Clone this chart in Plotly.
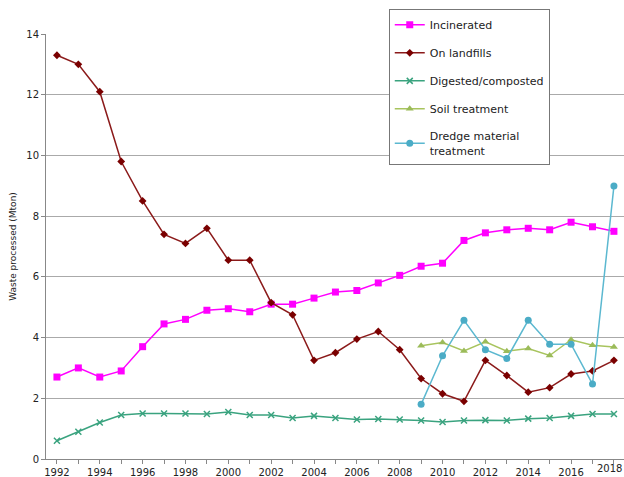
import plotly.graph_objects as go

years = list(range(1992, 2019))
years_new = list(range(2009, 2019))

incinerated = [2.7, 3.0, 2.7, 2.9, 3.7, 4.45, 4.6, 4.9, 4.95, 4.85, 5.1, 5.1, 5.3, 5.5,
               5.55, 5.8, 6.05, 6.35, 6.45, 7.2, 7.45, 7.55, 7.6, 7.55, 7.8, 7.65, 7.5]
landfills = [13.3, 13.0, 12.1, 9.8, 8.5, 7.4, 7.1, 7.6, 6.55, 6.55, 5.15, 4.75, 3.25, 3.5,
             3.95, 4.2, 3.6, 2.65, 2.15, 1.9, 3.25, 2.75, 2.2, 2.35, 2.8, 2.9, 3.25]
digested = [0.6, 0.9, 1.2, 1.45, 1.5, 1.5, 1.5, 1.48, 1.55, 1.45, 1.45, 1.35, 1.42, 1.35,
            1.3, 1.32, 1.3, 1.27, 1.22, 1.27, 1.28, 1.27, 1.33, 1.35, 1.42, 1.48, 1.48]
soil = [3.73, 3.84, 3.56, 3.86, 3.55, 3.64, 3.41, 3.93, 3.75, 3.69]
dredge = [1.8, 3.4, 4.57, 3.6, 3.31, 4.57, 3.78, 3.78, 2.47, 8.99]

tick_years = list(range(1992, 2019, 2))

fig = go.Figure()
font = "DejaVu Sans, Verdana, sans-serif"

fig.add_trace(go.Scatter(x=years, y=incinerated, name="Incinerated", mode="lines+markers",
                         line=dict(color="#FF00FF", width=1.5),
                         marker=dict(symbol="square", size=7, color="#FF00FF"),
                         legendgroup="a"))
fig.add_trace(go.Scatter(x=years, y=landfills, name="On landfills", mode="lines+markers",
                         line=dict(color="#8B1A1A", width=1.5),
                         marker=dict(symbol="diamond", size=6, color="#7A0000"),
                         legendgroup="b"))
fig.add_trace(go.Scatter(x=years, y=digested, name="Digested/composted", mode="lines+markers",
                         line=dict(color="#3AA37F", width=1.5),
                         marker=dict(symbol="x-thin", size=6, color="#3AA37F",
                                     line=dict(color="#3AA37F", width=1.5)),
                         legendgroup="c"))
fig.add_trace(go.Scatter(x=years_new, y=soil, name="Soil treatment", mode="lines+markers",
                         line=dict(color="#A8C45E", width=1.5),
                         marker=dict(symbol="triangle-up", size=7, color="#9BBB59"),
                         legendgroup="d"))
fig.add_trace(go.Scatter(x=years_new, y=dredge, name="Dredge material<br>treatment",
                         mode="lines+markers",
                         line=dict(color="#5BB8D0", width=1.5),
                         marker=dict(symbol="circle", size=7, color="#4BACC6"),
                         legendgroup="e"))

# last tick label sits at the right edge in the reference; plotly would drop it
fig.add_annotation(x=tick_years[-1], y=0, xref="x", yref="paper", yanchor="top",
                   yshift=-2, xshift=-4, text=str(tick_years[-1]), showarrow=False,
                   font=dict(family=font, size=10, color="#222"))

fig.update_layout(
    width=624, height=477,
    margin=dict(l=46, r=0, t=34, b=18),
    paper_bgcolor="white", plot_bgcolor="white",
    font=dict(family=font, size=10, color="#222"),
    legend=dict(x=0.593, y=1.058, xanchor="left", yanchor="top",
                bordercolor="#777", borderwidth=1, bgcolor="white",
                font=dict(family=font, size=11, color="#222"),
                tracegroupgap=9, itemwidth=30),
    xaxis=dict(range=[1991.49, 2018.47], tickmode="array", tickvals=tick_years[:-1],
               ticktext=[str(y) for y in tick_years[:-1]], showgrid=False,
               showline=True, linecolor="#888", linewidth=1,
               ticks="outside", ticklen=4, tickcolor="#888",
               minor=dict(dtick=1, tick0=1992, ticks="outside", ticklen=4, tickcolor="#888"),
               tickfont=dict(size=10), zeroline=False, automargin=False,
               ticklabelstandoff=0),
    yaxis=dict(range=[0, 14], dtick=2, showgrid=True, gridcolor="#aaaaaa", gridwidth=1,
               showline=True, linecolor="#888", linewidth=1,
               ticks="outside", ticklen=4, tickcolor="#888",
               tickfont=dict(size=10), zeroline=False, automargin=False,
               title=dict(text="Waste processed (Mton)", font=dict(size=9), standoff=8)),
)

fig.write_html("out.html", config={"displayModeBar": False},
               post_script="document.body.style.margin='0';document.body.style.overflow='hidden';")
